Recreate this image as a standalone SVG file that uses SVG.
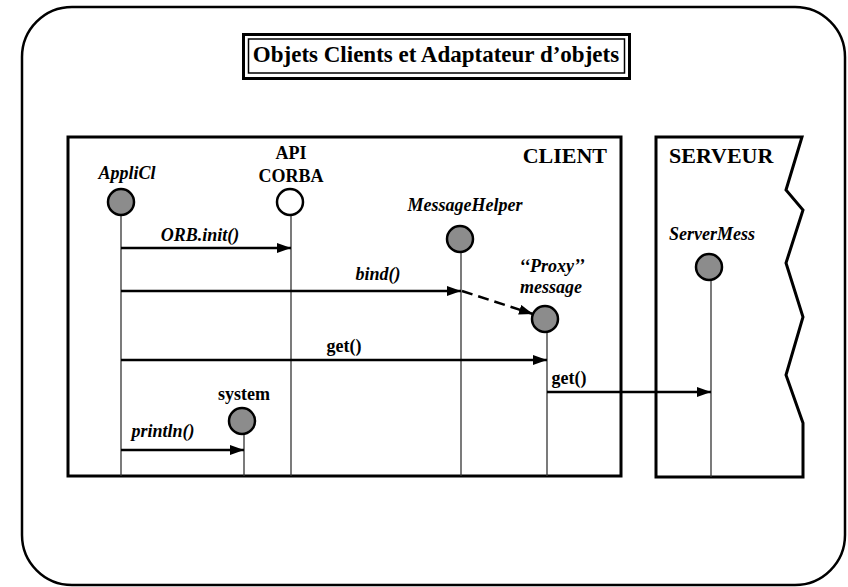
<svg xmlns="http://www.w3.org/2000/svg" width="848" height="587" viewBox="0 0 848 587">
<style>
text{font-family:"Liberation Serif","Times New Roman",serif;font-weight:bold;fill:#000}
.t{font-size:22px}
.tt{font-size:23px;text-anchor:middle}
.l{font-size:18px;text-anchor:middle}
.i{font-style:italic}
.box{fill:none;stroke:#000;stroke-width:3}
.life{stroke:#333;stroke-width:1.3;fill:none}
.obj{fill:#8c8c8c;stroke:#000;stroke-width:2.5}
.msg{stroke:#000;stroke-width:2.5;fill:none;marker-end:url(#ah)}
</style>
<defs>
<marker id="ah" viewBox="0 0 14 10" refX="14" refY="5" markerWidth="14" markerHeight="10" markerUnits="userSpaceOnUse" orient="auto">
<path d="M0,0 L14,5 L0,10 Z" fill="#000"/>
</marker>
</defs>
<rect x="22" y="7" width="823" height="578" rx="50" ry="50" fill="#fff" stroke="#000" stroke-width="2.5"/>
<g id="title">
<rect x="243.5" y="34.5" width="386" height="44" class="box"/>
<rect x="248.5" y="39" width="376" height="34" fill="none" stroke="#000" stroke-width="1.5"/>
<text x="436" y="62" class="tt">Objets Clients et Adaptateur d’objets</text>
</g>
<g id="client">
<rect x="68" y="137" width="553" height="339" class="box"/>
<text x="607" y="163" class="t" text-anchor="end">CLIENT</text>
</g>
<g id="serveur">
<path d="M656,137 L802,137 L786,190 L803,210 L786,263 L803,317 L786,375 L803,423 L803,477 L656,477 Z" class="box"/>
<text x="669" y="163" class="t">SERVEUR</text>
</g>
<g id="AppliCl">
<line x1="121" y1="215" x2="121" y2="476" class="life"/>
<circle cx="121" cy="202" r="13" class="obj"/>
<text x="127" y="179" class="l i">AppliCl</text>
</g>
<g id="APICORBA">
<line x1="291" y1="215" x2="291" y2="476" class="life"/>
<circle cx="290" cy="202" r="13" fill="#fff" stroke="#000" stroke-width="2.5"/>
<text x="291" y="159" class="l">API</text>
<text x="291" y="182" class="l">CORBA</text>
</g>
<g id="MessageHelper">
<line x1="461" y1="252" x2="461" y2="476" class="life"/>
<circle cx="460" cy="239" r="13" class="obj"/>
<text x="465" y="211" class="l i">MessageHelper</text>
</g>
<g id="Proxy">
<line x1="547" y1="332" x2="547" y2="476" class="life"/>
<circle cx="545" cy="319" r="13" class="obj"/>
<text x="552" y="272" class="l i">‘‘Proxy’’</text>
<text x="551" y="293" class="l i">message</text>
</g>
<g id="system">
<line x1="244" y1="434" x2="244" y2="476" class="life"/>
<circle cx="242" cy="421" r="13" class="obj"/>
<text x="244" y="400" class="l">system</text>
</g>
<g id="ServerMess">
<line x1="711" y1="281" x2="711" y2="477" class="life"/>
<circle cx="709" cy="267" r="13" class="obj"/>
<text x="712" y="240" class="l i">ServerMess</text>
</g>
<g id="connectors">
<line x1="121" y1="248" x2="291" y2="248" class="msg"/>
<text x="200" y="241" class="l i">ORB.init()</text>
<line x1="121" y1="291" x2="461" y2="291" class="msg"/>
<text x="378" y="280" class="l i">bind()</text>
<line x1="462" y1="291" x2="533" y2="314" class="msg" stroke-dasharray="11,6"/>
<line x1="121" y1="360" x2="547" y2="360" class="msg"/>
<text x="344" y="352" class="l">get()</text>
<line x1="547" y1="392" x2="711" y2="392" class="msg"/>
<text x="569" y="384" class="l">get()</text>
<line x1="121" y1="450" x2="244" y2="450" class="msg"/>
<text x="163" y="437" class="l i">println()</text>
</g>
</svg>
